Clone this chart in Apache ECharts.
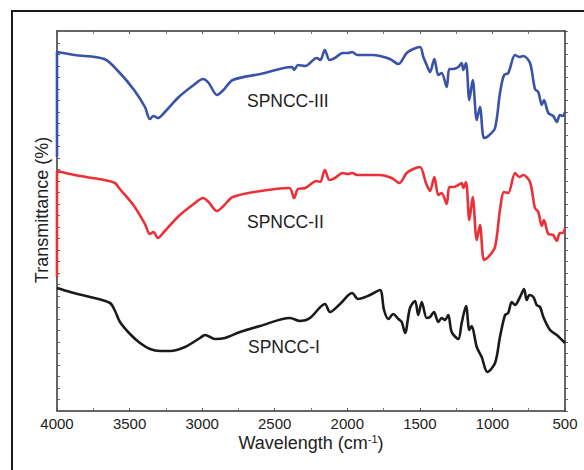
<!DOCTYPE html>
<html>
<head>
<meta charset="utf-8">
<script src="https://cdn.jsdelivr.net/npm/echarts@6/dist/echarts.min.js"></script>
<style>html,body{margin:0;padding:0;background:#fff}#c{width:584px;height:470px}</style>
</head>
<body>
<div id="c"></div>
<script>
// Wavenumbers (cm^-1) and relative transmittance (arbitrary offset units)
const wnIII = [4000,4000,3879,3674,3573,3469,3394,3360,3335,3305,3263,3161,3058,2994,2955,2898,2853,2789,2597,2380,2366,2340,2289,2211,2186,2155,2122,2085,2032,1994,1967,1930,1827,1775,1706,1648,1591,1545,1499,1476,1453,1430,1400,1373,1350,1315,1297,1270,1235,1212,1201,1182,1159,1136,1108,1086,1058,1028,982,948,920,891,844,815,787,741,707,684,660,645,615,581,557,535,516,500];
const tIII  = [254,359,356,352,339,321,304,292,295,293,298,314,326,332,328,316,321,331,337,344,341,346,345,353,351,361,351,353,358,358,359,356,356,355,352,347,358,362,364,354,346,339,352,336,338,324,342,342,344,348,341,348,311,331,291,304,273,275,283,318,336,338,356,354,355,348,322,319,306,311,298,295,289,296,295,299];

const wnII = [4000,4000,3879,3800,3674,3600,3573,3469,3394,3360,3335,3305,3263,3161,3058,2994,2955,2898,2853,2789,2597,2400,2366,2340,2289,2211,2186,2155,2122,2085,2032,1994,1967,1930,1827,1775,1694,1641,1591,1545,1499,1458,1430,1400,1373,1350,1315,1297,1270,1235,1212,1201,1182,1159,1136,1108,1086,1058,1028,982,948,920,891,844,815,787,741,707,684,660,645,615,581,557,535,516,500];
const tII  = [134,240,236,234,231,228,223,205,187,177,179,173,179,195,207,213,209,200,205,214,220,223,213,222,223,230,229,241,231,233,238,237,238,236,236,236,233,228,238,242,244,228,220,234,216,218,207,224,224,226,228,223,229,191,214,171,186,151,154,164,201,219,218,238,234,236,229,203,199,185,191,177,176,170,178,178,183];

const wnI = [4000,3910,3773,3635,3600,3566,3497,3428,3359,3290,3221,3118,3015,2980,2911,2843,2739,2601,2395,2326,2257,2154,2119,2050,1967,1926,1843,1775,1747,1717,1683,1648,1625,1602,1568,1533,1511,1487,1453,1430,1403,1373,1350,1327,1304,1281,1235,1212,1182,1159,1143,1108,1074,1035,982,948,913,891,867,844,810,782,764,745,718,695,672,649,603,557,500];
const tI  = [123,119,114,108,100,89,77,68,62,60,60,64,73,76,72,73,79,85,93,90,93,107,99,107,118,112,116,121,101,92,97,92,89,78,103,110,96,109,93,94,99,89,93,91,96,79,72,88,105,81,85,64,54,39,48,74,96,98,109,106,114,122,111,116,114,106,104,94,81,76,68];

const xTicks = [4000,3500,3000,2500,2000,1500,1000,500];
const seriesNames = ['SPNCC-III','SPNCC-II','SPNCC-I'];

const pair = (xs, ys) => xs.map((x, i) => [x, ys[i]]);
const FONT = '"Liberation Sans", Arial, Helvetica, sans-serif';
const axisColor = '#333';

const chart = echarts.init(document.getElementById('c'), null, {renderer: 'svg'});
const baseX = {
  type: 'value', min: 500, max: 4000, interval: 500, inverse: true,
  axisLine: {show: true, onZero: false, lineStyle: {color: axisColor, width: 1.5}},
  axisTick: {show: true, inside: true, length: 3, lineStyle: {color: '#555'}},
  minorTick: {show: true, splitNumber: 2, length: 3, lineStyle: {color: '#777'}},
  splitLine: {show: false}
};
const baseY = {
  type: 'value', min: 0, max: 380, interval: 11.5,
  axisLine: {show: true, onZero: false, lineStyle: {color: axisColor, width: 1.5}},
  axisLabel: {show: false},
  splitLine: {show: false}
};
chart.setOption({
  animation: false,
  backgroundColor: '#fff',
  grid: {left: 57, right: 19, top: 31, bottom: 59},
  xAxis: [
    Object.assign({}, baseX, {
      position: 'bottom',
      axisLabel: {show: true, margin: 5, fontSize: 15, color: '#222', fontFamily: FONT,
        formatter: v => xTicks.indexOf(v) >= 0 ? String(v) : ''}
    }),
    Object.assign({}, baseX, {position: 'top', axisLabel: {show: false}})
  ],
  yAxis: [
    Object.assign({}, baseY, {position: 'left',
      axisTick: {show: true, inside: true, length: 3, lineStyle: {color: '#666'}}}),
    Object.assign({}, baseY, {position: 'right',
      axisTick: {show: true, inside: false, length: 3, lineStyle: {color: '#666'}}})
  ],
  series: [
    {name: seriesNames[0], type: 'line', data: pair(wnIII, tIII), showSymbol: false, smooth: 0.3,
     lineStyle: {color: '#3953a6', width: 2.6}, z: 3},
    {name: seriesNames[1], type: 'line', data: pair(wnII, tII), showSymbol: false, smooth: 0.3,
     lineStyle: {color: '#ec3038', width: 2.6}, z: 3},
    {name: seriesNames[2], type: 'line', data: pair(wnI, tI), showSymbol: false, smooth: 0.3,
     lineStyle: {color: '#1a1a1a', width: 2.6}, z: 3}
  ],
  graphic: [
    {type: 'rect', shape: {x: 12, y: 11, width: 620, height: 520}, silent: true,
     style: {fill: 'none', stroke: '#1a1a1a', lineWidth: 2}},
    {type: 'text', x: 247, y: 101, style: {text: seriesNames[0], fontSize: 17.5, fontFamily: FONT, fill: '#222', textVerticalAlign: 'middle'}},
    {type: 'text', x: 247, y: 222, style: {text: seriesNames[1], fontSize: 17.5, fontFamily: FONT, fill: '#222', textVerticalAlign: 'middle'}},
    {type: 'text', x: 248, y: 347, style: {text: seriesNames[2], fontSize: 17.5, fontFamily: FONT, fill: '#222', textVerticalAlign: 'middle'}},
    {type: 'text', x: 42, y: 210, rotation: Math.PI / 2,
     style: {text: 'Transmittance (%)', fontSize: 18, fontFamily: FONT, fill: '#222', textAlign: 'center', textVerticalAlign: 'middle'}},
    {type: 'text', x: 311, y: 443,
     style: {text: 'Wavelength (cm{sup|-1})', fontSize: 18, fontFamily: FONT, fill: '#222', textAlign: 'center', textVerticalAlign: 'middle',
       rich: {sup: {fontSize: 11, fontFamily: FONT, fill: '#222', padding: [0, 0, 9, 0]}}}}
  ]
});
</script>
</body>
</html>
